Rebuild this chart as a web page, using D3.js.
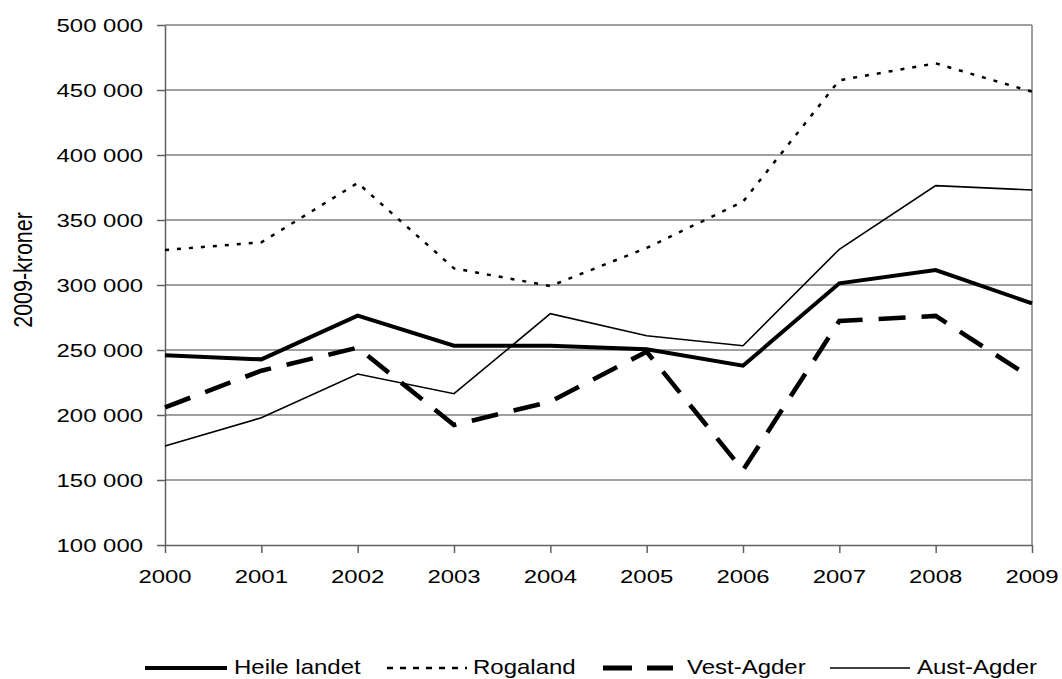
<!DOCTYPE html>
<html>
<head>
<meta charset="utf-8">
<script src="https://cdn.jsdelivr.net/npm/d3@7"></script>
<style>
  body { margin: 0; background: #fff; }
  text { font-family: "Liberation Sans", Arial, sans-serif; fill: #000; }
</style>
</head>
<body>
<svg id="chart" width="1062" height="679"></svg>
<script>
// data
const years = [2000, 2001, 2002, 2003, 2004, 2005, 2006, 2007, 2008, 2009];
const heileLandet = [246000, 242800, 276400, 253300, 253300, 250500, 237900, 301300, 311500, 285900];
const rogaland = [326900, 332800, 378500, 312800, 299200, 328500, 364100, 457500, 470500, 448700];
const vestAgder = [205900, 234100, 251800, 192300, 210300, 248700, 157500, 272300, 276200, 228200];
const austAgder = [176200, 197900, 231500, 216400, 277900, 261000, 253300, 327500, 376400, 373100];
const yTicks = [100000, 150000, 200000, 250000, 300000, 350000, 400000, 450000, 500000];

const series = [
  { name: "Heile landet", values: heileLandet, width: 4, dash: null },
  { name: "Rogaland", values: rogaland, width: 2.5, dash: "4,8" },
  { name: "Vest-Agder", values: vestAgder, width: 4.6, dash: "27,16" },
  { name: "Aust-Agder", values: austAgder, width: 1.6, dash: null }
];

const svg = d3.select("#chart");
const m = { left: 165, right: 1032, top: 25, bottom: 545 };
const SX = 1.33; // the lettering in the reference is wide

const x = d3.scalePoint().domain(years).range([m.left, m.right]);
const y = d3.scaleLinear().domain([100000, 500000]).range([m.bottom, m.top]);
const fmt = d => d3.format(",")(d).replace(/,/g, " ");

// wide text helper
function wideText(g, tx, ty, str, size, sx, anchor) {
  return g.append("text")
    .attr("transform", `translate(${tx},${ty}) scale(${sx},1)`)
    .attr("text-anchor", anchor || "start")
    .attr("font-size", size)
    .text(str);
}

// gridlines
svg.append("g")
  .selectAll("line")
  .data(yTicks.slice(1))
  .join("line")
  .attr("x1", m.left).attr("x2", m.right)
  .attr("y1", d => y(d)).attr("y2", d => y(d))
  .attr("stroke", "#808080").attr("stroke-width", 1.5);

// right border
svg.append("line")
  .attr("x1", m.right).attr("x2", m.right).attr("y1", m.top).attr("y2", m.bottom)
  .attr("stroke", "#808080").attr("stroke-width", 1.5);

// y axis (ticks + domain), labels drawn separately
const yAxis = svg.append("g")
  .attr("transform", `translate(${m.left},0)`)
  .call(d3.axisLeft(y).tickValues(yTicks).tickFormat("").tickSize(8).tickSizeOuter(0));
yAxis.select(".domain").attr("stroke", "#606060").attr("stroke-width", 1.5);
yAxis.selectAll(".tick line").attr("stroke", "#606060").attr("stroke-width", 1.5);

const yLab = svg.append("g");
yTicks.forEach(t => wideText(yLab, 143, y(t) + 6.5, fmt(t), 18, SX, "end"));

// x axis
const xAxis = svg.append("g")
  .attr("transform", `translate(0,${m.bottom})`)
  .call(d3.axisBottom(x).tickFormat("").tickSize(8).tickSizeOuter(0));
xAxis.select(".domain").attr("stroke", "#606060").attr("stroke-width", 1.5);
xAxis.selectAll(".tick line").attr("stroke", "#606060").attr("stroke-width", 1.5);

const xLab = svg.append("g");
years.forEach(yr => wideText(xLab, x(yr), 583, String(yr), 18, SX, "middle"));

// y title
svg.append("text")
  .attr("transform", "translate(32,270) rotate(-90) scale(1.1,1.3)")
  .attr("text-anchor", "middle")
  .attr("font-size", 19.5)
  .text("2009-kroner");

// lines
const line = d3.line().x((d, i) => x(years[i])).y(d => y(d));
svg.append("g")
  .selectAll("path")
  .data(series)
  .join("path")
  .attr("d", d => line(d.values))
  .attr("fill", "none")
  .attr("stroke", "#000")
  .attr("stroke-width", d => d.width)
  .attr("stroke-dasharray", d => d.dash);

// legend
const legendY = 668;
const legendItems = [
  { x1: 145, x2: 227, tx: 234, w: 4, dash: null },
  { x1: 387, x2: 467, tx: 473, w: 2.5, dash: "6,7" },
  { x1: 603, x2: 673, tx: 687, w: 5, dash: "29,15" },
  { x1: 830, x2: 910, tx: 917, w: 1.6, dash: null }
];
const legend = svg.append("g");
series.forEach((s, i) => {
  const li = legendItems[i];
  legend.append("line")
    .attr("x1", li.x1).attr("x2", li.x2)
    .attr("y1", legendY).attr("y2", legendY)
    .attr("stroke", "#000")
    .attr("stroke-width", li.w)
    .attr("stroke-dasharray", li.dash);
  wideText(legend, li.tx, legendY + 6, s.name, 20, 1.2, "start");
});
</script>
</body>
</html>
